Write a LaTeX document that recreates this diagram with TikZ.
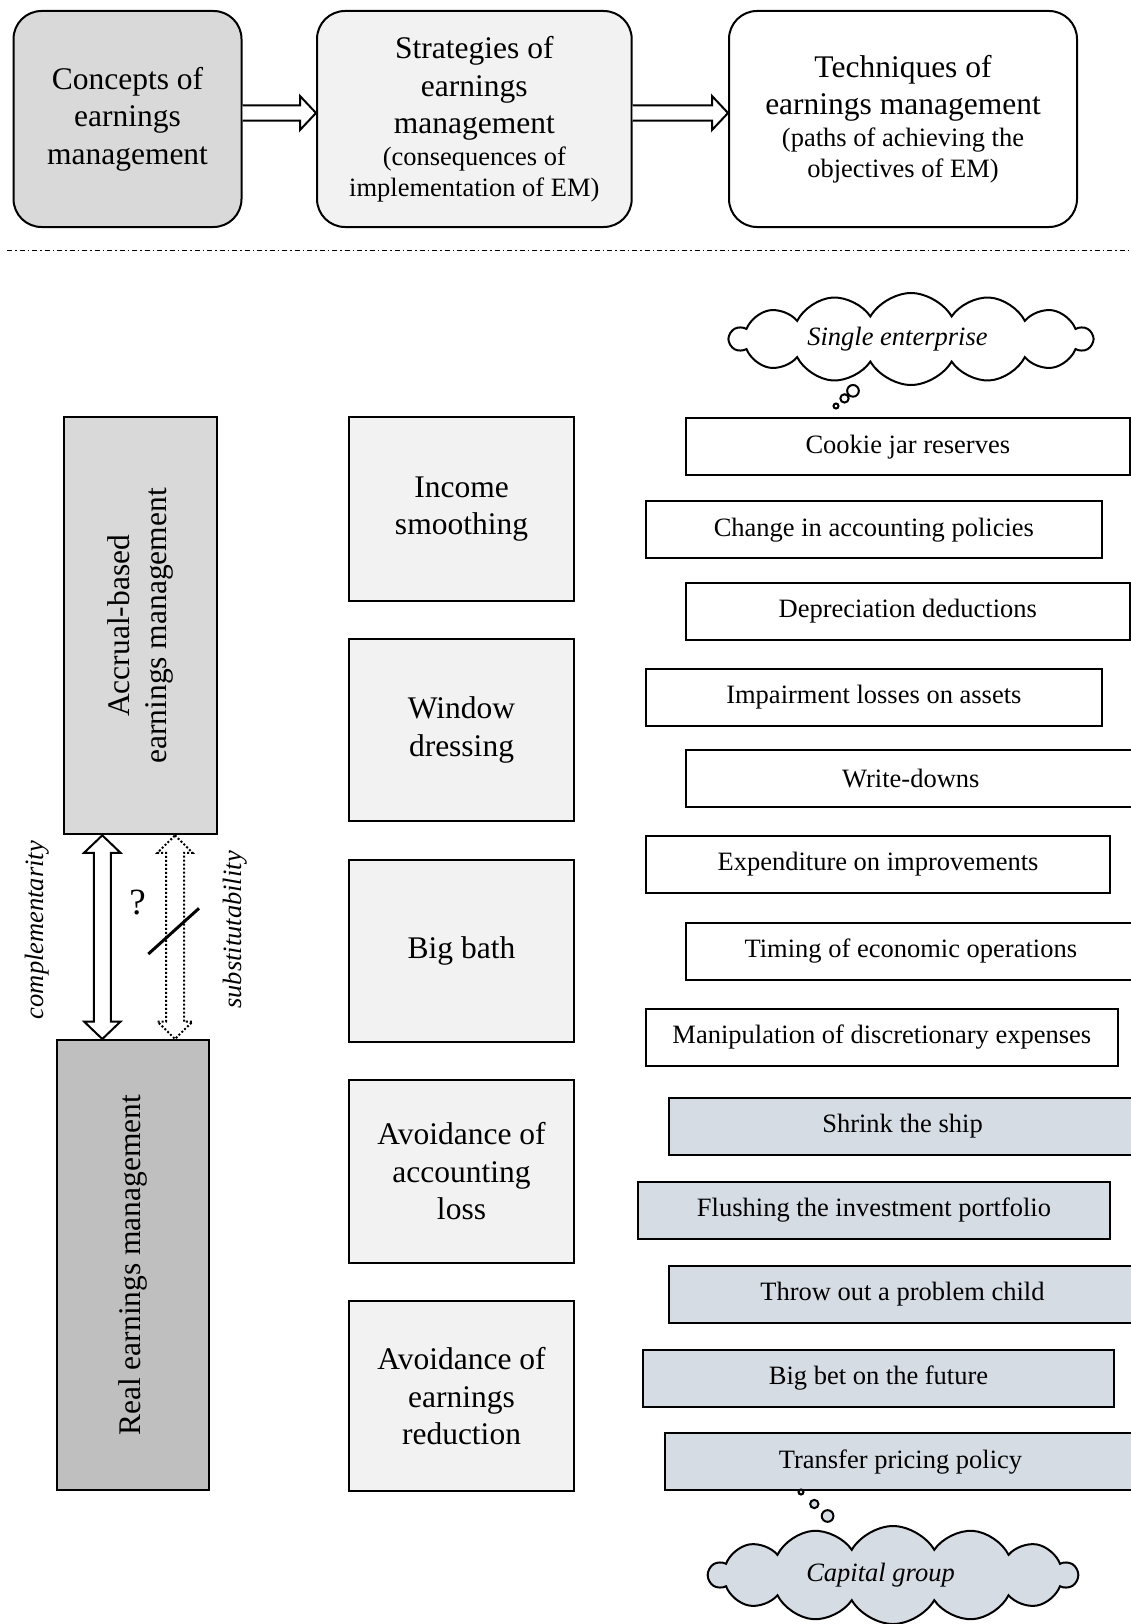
\documentclass[tikz,border=0pt]{standalone}
\usepackage{fontspec}
\setmainfont{Liberation Serif}
\usetikzlibrary{calc,shapes.symbols,shapes.callouts}
\definecolor{techblue}{RGB}{214,220,228}
\definecolor{lightfill}{RGB}{242,242,242}
\definecolor{midfill}{RGB}{217,217,217}
\definecolor{darkfill}{RGB}{191,191,191}
\newcommand{\bigtxt}{\fontsize{31.5}{37.5}\selectfont}
\newcommand{\smalltxt}{\fontsize{26.5}{30.5}\selectfont}

\begin{document}
\begin{tikzpicture}[x=1pt,y=-1pt,
  topbox/.style={draw,line width=2pt,rounded corners=28pt,align=center,font=\bigtxt,anchor=north west,minimum height=216pt,inner sep=0pt},
  midbox/.style={draw,line width=2pt,fill=lightfill,align=center,font=\bigtxt,anchor=north west,minimum width=225pt},
  techbox/.style={draw,line width=2pt,anchor=north west,minimum height=57pt,font=\smalltxt,inner sep=0pt},
  blockarr/.style={draw,line width=2pt,fill=white,line join=miter},
  thought/.style={cloud callout,draw,line width=2pt,cloud puffs=14,cloud puff arc=120,cloud ignores aspect,
    callout pointer segments=3,callout pointer start size=15pt,callout pointer end size=5pt,font=\smalltxt\itshape}]
\useasboundingbox (0,0) rectangle (1131,1624);
% top row: concepts -> strategies -> techniques
\node[topbox,fill=midfill,minimum width=228pt] (concepts) at (12.5,10) {Concepts of\\earnings\\management};
\node[topbox,fill=lightfill,minimum width=314.7pt] (strategies) at (316,10)
  {Strategies of\\earnings\\management\\[-5.5pt]\smalltxt (consequences of\\[-7pt]\smalltxt implementation of EM)};
\node[topbox,fill=white,minimum width=348pt] (techniques) at (728,10)
  {Techniques of\\[-1pt]earnings management\\[-5pt]\smalltxt (paths of achieving the\\[-7pt]\smalltxt objectives of EM)};
\draw[blockarr] ($(concepts.east)+(0,-13.7)$) -- ($(strategies.west)+(-16,-13.7)$) -- ($(strategies.west)+(-16,-23)$)
  -- ($(strategies.west)+(0,-6)$) -- ($(strategies.west)+(-16,11)$) -- ($(strategies.west)+(-16,1.7)$) -- ($(concepts.east)+(0,1.7)$);
\draw[blockarr] ($(strategies.east)+(0,-13.7)$) -- ($(techniques.west)+(-16,-13.7)$) -- ($(techniques.west)+(-16,-23)$)
  -- ($(techniques.west)+(0,-6)$) -- ($(techniques.west)+(-16,11)$) -- ($(techniques.west)+(-16,1.7)$) -- ($(strategies.east)+(0,1.7)$);
% separator
\draw[line width=1pt,dash pattern=on 5pt off 3pt on 1.5pt off 3pt] (7,250) -- (1131,250);
% concepts (left column)
\node[draw,line width=2pt,fill=midfill,rotate=90,minimum width=416.9pt,minimum height=152.7pt,align=center,font=\bigtxt]
  (accrual) at (140.3,625.9) {Accrual-based\\earnings management};
\node[draw,line width=2pt,fill=darkfill,rotate=90,minimum width=450.4pt,minimum height=152.6pt,font=\bigtxt]
  (real) at (133,1265.2) {Real earnings management};
\coordinate (ca) at ($(accrual.west)+(-38,0)$);
\coordinate (cb) at ($(real.east)+(-30.7,0)$);
\coordinate (sa) at ($(accrual.west)+(34.7,0)$);
\coordinate (sb) at ($(real.east)+(42,0)$);
\draw[blockarr] (ca) -- ($(ca)+(18.2,17.4)$) -- ($(ca)+(8.5,17.4)$) -- ($(cb)+(8.5,-17.4)$) -- ($(cb)+(18.2,-17.4)$) -- (cb)
  -- ($(cb)+(-18.2,-17.4)$) -- ($(cb)+(-8.5,-17.4)$) -- ($(ca)+(-8.5,17.4)$) -- ($(ca)+(-18.2,17.4)$) -- cycle;
\draw[blockarr,dash pattern=on 2pt off 2pt] (sa) -- ($(sa)+(17.5,17.4)$) -- ($(sa)+(9,17.4)$) -- ($(sb)+(9,-17.4)$) -- ($(sb)+(17.5,-17.4)$) -- (sb)
  -- ($(sb)+(-17.5,-17.4)$) -- ($(sb)+(-9,-17.4)$) -- ($(sa)+(-9,17.4)$) -- ($(sa)+(-17.5,17.4)$) -- cycle;
\node[rotate=90,font=\smalltxt\itshape] (compl) at (37.3,930) {complementarity};
\node[rotate=90,font=\smalltxt\itshape] (subst) at (235,930) {substitutability};
\node[font=\fontsize{37}{40}\selectfont,inner sep=0pt] (qmark) at (137.5,902.5) {?};
\draw[line width=3pt] (148.3,954) -- (199,908.3);
% strategies (middle column)
\foreach \nm/\yt/\hgt/\txt in {income/416/184/Income\\smoothing,window/638/182.3/Window\\dressing,
  bath/858.6/182.3/Big bath,loss/1079.2/182.3/Avoidance of\\accounting\\loss,
  reduction/1299.8/190.6/Avoidance of\\earnings\\reduction}
  \node[midbox,minimum height=\hgt pt] (\nm) at (348,\yt) {\txt};
% techniques (right column)
\foreach \nm/\xl/\xr/\yt/\txt in {cookie/684.6/1129/417.4/Cookie jar reserves,
  change/645/1100.7/500.2/Change in accounting policies,
  deprec/684.6/1129/582/Depreciation deductions,
  impair/645/1100.7/668/Impairment losses on assets,
  writedown/684.6/1135/748.8/Write-downs,
  expend/645/1109/834.8/Expenditure on improvements,
  timing/684.6/1135/921.8/Timing of economic operations,
  manip/645/1116.7/1007.7/Manipulation of discretionary expenses}
  \node[techbox,fill=white,minimum width={(\xr-\xl)*1pt}] (\nm) at (\xl,\yt) {\txt};
\foreach \nm/\xl/\xr/\yt/\txt in {shrink/668/1135/1096.8/Shrink the ship,
  flush/637/1109/1180.7/Flushing the investment portfolio,
  throw/668/1135/1264.6/Throw out a problem child,
  bigbet/642/1113/1348.5/Big bet on the future,
  transfer/664/1135/1432.4/Transfer pricing policy}
  \node[techbox,fill=techblue,minimum width={(\xr-\xl)*1pt}] (\nm) at (\xl,\yt) {\txt};
% clouds (text sits a little left of the middle)
\coordinate (septr) at (836,406);
\node[thought,fill=white,minimum width=362pt,minimum height=92pt,callout absolute pointer={(septr)}]
  (single) at (911,339) {\hspace*{-27pt}Single enterprise};
\coordinate (cgptr) at (801,1492);
\node[thought,fill=techblue,minimum width=368pt,minimum height=98pt,callout absolute pointer={(cgptr)}]
  (capital) at (893,1575) {\hspace*{-25pt}Capital group};
\end{tikzpicture}
\end{document}
